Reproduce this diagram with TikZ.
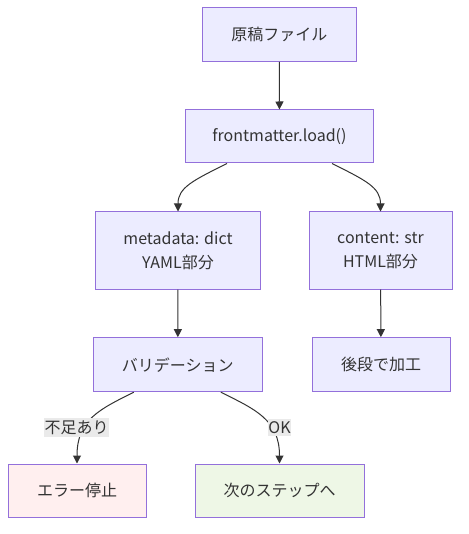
\documentclass[tikz,border=0pt]{standalone}
\usepackage{fontspec}
\setmainfont{Noto Sans CJK JP}
\usepackage{tikz}
\usetikzlibrary{calc,positioning,arrows.meta}
\definecolor{boxfill}{HTML}{ECECFF}
\definecolor{boxline}{HTML}{9370DB}
\definecolor{edgeline}{HTML}{333333}
\definecolor{lblfill}{HTML}{EAEAEA}
\definecolor{errfill}{HTML}{FFEFEF}
\definecolor{okfill}{HTML}{EEF7E6}

\begin{document}
\begin{tikzpicture}[x=0.75pt,y=-0.75pt,
  box/.style 2 args={draw=boxline,fill=boxfill,line width=0.75pt,text=edgeline,
    minimum width=#1*0.75pt,minimum height=#2*0.75pt,inner sep=0pt,align=center,
    font={\fontsize{12}{18}\selectfont}},
  link/.style={draw=edgeline,line width=0.75pt,-{Triangle[length=6pt,width=6pt]}},
  lbl/.style={fill=lblfill,text=edgeline,inner xsep=0.5pt,inner ysep=2pt,
    font={\fontsize{12}{14}\selectfont}}]
  \useasboundingbox (0,0) rectangle (468,534);
  \coordinate (pSrc) at (279.3,34.3);
  \coordinate (pLoad) at (279.5,136.5);
  \coordinate (pMeta) at (178,250.5);
  \coordinate (pCont) at (380.5,250.5);
  \coordinate (pValid) at (177.8,364.7);
  \coordinate (pPost) at (381,364.7);
  \coordinate (pErr) at (77,490.5);
  \coordinate (pNext) at (279.5,490.5);
  \node[box={154}{54}] (src) at (pSrc) {原稿ファイル};
  \node[box={188}{53}] (load) at (pLoad) {frontmatter.load()};
  \node[box={165}{77}] (meta) at (pMeta) {metadata: dict\\YAML部分};
  \node[box={143}{77}] (cont) at (pCont) {content: str\\HTML部分};
  \node[box={169}{54}] (valid) at (pValid) {バリデーション};
  \node[box={138}{54}] (post) at (pPost) {後段で加工};
  \node[box={138}{53},fill=errfill] (err) at (pErr) {エラー停止};
  \node[box={169}{53},fill=okfill] (next) at (pNext) {次のステップへ};
  \draw[link] (src) -- (load);
  \draw[link] ($(load.south)+(-52.5,0)$) .. controls +(-34,17) and +(0,-24) .. (meta.north);
  \draw[link] ($(load.south)+(52.5,0)$) .. controls +(34,17) and +(0,-24) .. (cont.north);
  \draw[link] (meta) -- (valid);
  \draw[link] (cont) -- (post);
  \draw[link] ($(valid.south)+(-44,0)$) .. controls +(-34,17) and +(0,-44) .. (err.north);
  \draw[link] ($(valid.south)+(43,0)$) .. controls +(34,17) and +(0,-44) .. (next.north);
  \node[lbl] (lblNG) at (76.5,427.5) {不足あり};
  \node[lbl] (lblOK) at (279.5,427.5) {OK};
\end{tikzpicture}
\end{document}
